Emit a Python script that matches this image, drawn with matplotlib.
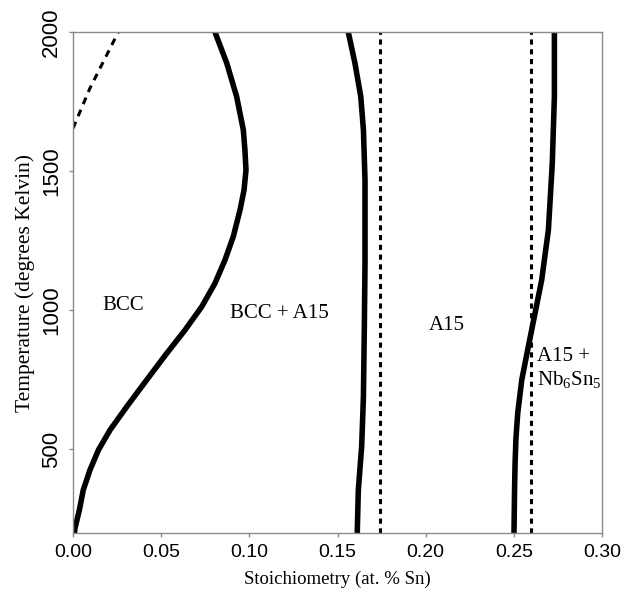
import matplotlib
matplotlib.use('Agg')
import matplotlib.pyplot as plt

plt.rcParams['mathtext.fontset'] = 'custom'
plt.rcParams['mathtext.rm'] = 'Liberation Serif'

# BCC solubility boundary (x = Sn fraction, T in K)
bcc_x = [0.0008, 0.0011, 0.0036, 0.0058, 0.0096, 0.0144, 0.0210, 0.0305, 0.0418, 0.0531, 0.0635,
         0.0730, 0.0805, 0.0862, 0.0909, 0.0947, 0.0970, 0.0981, 0.0975, 0.0966, 0.0928, 0.0872, 0.0805]
bcc_t = [200, 217, 282, 354, 426, 498, 570, 654, 750, 845, 929,
         1013, 1097, 1181, 1265, 1360, 1432, 1504, 1576, 1648, 1768, 1888, 2000]

# dashed line in upper left corner
liq_x = [0.0, 0.0096, 0.0257]
liq_t = [1654, 1798, 2000]

# A15 low-Sn boundary
a15lo_x = [0.1612, 0.1618, 0.1637, 0.1647, 0.1652, 0.1656, 0.1656, 0.1647, 0.1632, 0.1599, 0.1561]
a15lo_t = [200, 354, 510, 690, 929, 1169, 1468, 1648, 1768, 1888, 2000]

# A15 high-Sn boundary
a15hi_x = [0.2501, 0.2504, 0.2507, 0.2512, 0.2522, 0.2545, 0.2582, 0.2620, 0.2658, 0.2696, 0.2718, 0.2730, 0.2730]
a15hi_t = [200, 350, 450, 540, 630, 750, 869, 989, 1109, 1289, 1528, 1768, 2000]

# vertical dotted reference lines
vlines_x = [0.174, 0.26]

fig = plt.figure(figsize=(6.25, 5.94), dpi=100)
ax = fig.add_axes([0.1168, 0.1027, 0.8464, 0.8434])

lw = 4
ax.plot(bcc_x, bcc_t, color='black', lw=lw, solid_capstyle='butt', solid_joinstyle='round')
ax.plot(a15lo_x, a15lo_t, color='black', lw=lw, solid_capstyle='butt', solid_joinstyle='round')
ax.plot(a15hi_x, a15hi_t, color='black', lw=lw, solid_capstyle='butt', solid_joinstyle='round')
ax.plot(liq_x, liq_t, color='black', lw=2.2, linestyle=(0, (2.3, 2.0)))
for xv in vlines_x:
    ax.plot([xv, xv], [200, 2000], color='black', lw=2.2, linestyle=(0, (1.7, 1.5)))

ax.set_xlim(0, 0.30)
ax.set_ylim(200, 2000)
ax.set_xticks([0.0, 0.05, 0.10, 0.15, 0.20, 0.25, 0.30])
ax.set_xticklabels(['0.00', '0.05', '0.10', '0.15', '0.20', '0.25', '0.30'],
                   family='Liberation Sans', fontsize=14)
ax.set_yticks([500, 1000, 1500, 2000])
ax.set_yticklabels(['500', '1000', '1500', '2000'], family='Liberation Sans',
                   fontsize=16, rotation=90, va='center')
for s in ax.spines.values():
    s.set_color('#8a8a8a')
    s.set_linewidth(1.0)
ax.tick_params(axis='both', length=3, color='#8a8a8a', width=1.0)
ax.tick_params(axis='x', pad=5)
ax.tick_params(axis='y', pad=5)

ax.set_xlabel('Stoichiometry (at. % Sn)', family='Liberation Serif', fontsize=13.5, labelpad=7)
ax.set_ylabel('Temperature (degrees Kelvin)', family='Liberation Serif', fontsize=15.5, labelpad=4)

tkw = dict(family='Liberation Serif', fontsize=15, color='black')
ax.text(0.0282, 1019, 'BCC', ha='center', va='center', **tkw)
ax.text(0.1168, 990, 'BCC + A15', ha='center', va='center', **tkw)
ax.text(0.2121, 947, 'A15', ha='center', va='center', **tkw)
ax.text(0.2633, 833, 'A15 +', ha='left', va='center', **tkw)
ax.text(0.2633, 750, r'$\mathrm{Nb}_{6}\mathrm{Sn}_{5}$', ha='left', va='center', **tkw)

fig.savefig('out.png', dpi=100)
